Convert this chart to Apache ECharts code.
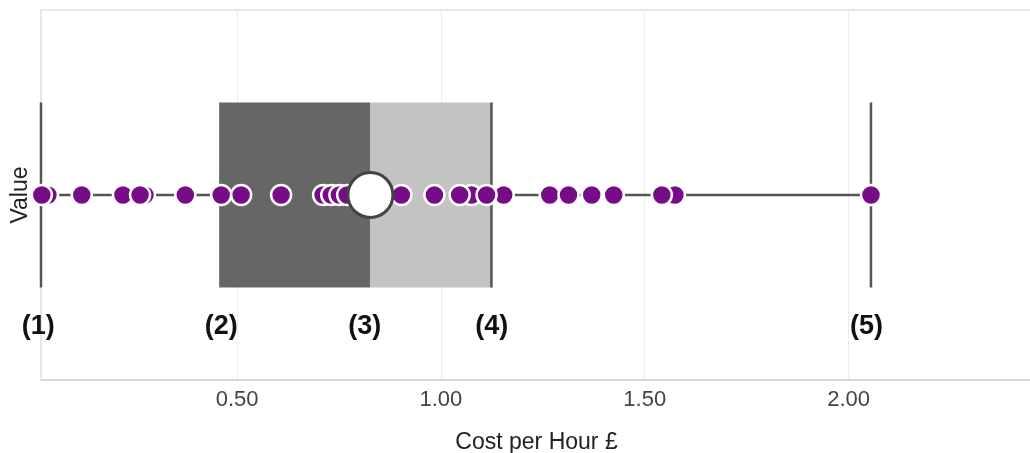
<!DOCTYPE html>
<html>
<head>
<meta charset="utf-8">
<script src="https://cdn.jsdelivr.net/npm/echarts@6/dist/echarts.min.js"></script>
<style>
    html, body { margin: 0; padding: 0; background: #fff; }
    #costChart { width: 1030px; height: 453px; }
</style>
</head>
<body>
<div id="costChart"></div>
<script>
// low whisker, Q1, median, Q3, high whisker
var boxStats = [0.019, 0.456, 0.827, 1.124, 2.055];
// drawn in this order, so the ones listed first sit behind their neighbours
var costValues = [0.036, 0.274, 1.075, 1.154, 1.267, 1.574,
    0.021, 0.119, 0.220, 0.262, 0.373, 0.461, 0.510, 0.608, 0.711, 0.731, 0.751, 0.770,
    0.903, 0.984, 1.046, 1.112, 1.313, 1.370, 1.424, 1.542, 2.055];
var markerText = ['(1)', '(2)', '(3)', '(4)', '(5)'];
var markerPos = [0.012, 0.461, 0.813, 1.125, 2.044];
var xTicks = [0.5, 1.0, 1.5, 2.0];

function $each(arr, fn) {
    for (var i = 0; i < arr.length; i++) fn(arr[i], i);
}

var pointData = [], markerData = [];
$each(costValues, function (v) { pointData.push([v, 0]); });
$each(markerPos, function (v) { markerData.push([v, -0.71]); });

function renderBox(params, api) {
    var lo = api.value(0), q1 = api.value(1), med = api.value(2), q3 = api.value(3), hi = api.value(4);
    var top = 0.5, bottom = -0.5;
    var lineStyle = { stroke: '#555', lineWidth: 2.5 };
    function vline(v) {
        var a = api.coord([v, top]), b = api.coord([v, bottom]);
        return { type: 'line', shape: { x1: a[0], y1: a[1], x2: b[0], y2: b[1] }, style: lineStyle };
    }
    function rect(v1, v2, color) {
        var a = api.coord([v1, top]), b = api.coord([v2, bottom]);
        return { type: 'rect', shape: { x: a[0], y: a[1], width: b[0] - a[0], height: b[1] - a[1] }, style: { fill: color } };
    }
    var l = api.coord([lo, 0]), h = api.coord([hi, 0]);
    return {
        type: 'group',
        children: [
            { type: 'line', shape: { x1: l[0], y1: l[1], x2: h[0], y2: h[1] }, style: lineStyle },
            rect(q1, med, '#666666'),
            rect(med, q3, '#c3c3c3'),
            vline(lo),
            vline(q3),
            vline(hi)
        ]
    };
}

var costChart = echarts.init(document.getElementById('costChart'));
var option = {
    animation: false,
    textStyle: { fontFamily: 'Liberation Sans, Arial, sans-serif' },
    grid: {
        left: 41,
        right: -2,
        top: 10,
        bottom: 73,
        outerBoundsMode: 'none',
        show: true,
        borderColor: '#cfcfcf',
        borderWidth: 1
    },
    xAxis: {
        type: 'value',
        min: boxStats[0],
        max: 2.45,
        name: 'Cost per Hour £',
        nameLocation: 'middle',
        nameGap: 51,
        nameTextStyle: { color: '#222', fontSize: 23 },
        axisLine: { show: true, onZero: false, lineStyle: { color: '#d4d4d4', width: 1.5 } },
        axisTick: { show: false, customValues: xTicks },
        axisLabel: {
            customValues: xTicks,
            color: '#444',
            fontSize: 22,
            margin: 9,
            formatter: function (v) { return v.toFixed(2); }
        },
        splitLine: { show: true, lineStyle: { color: '#ececec', width: 1 } }
    },
    yAxis: {
        type: 'value',
        min: -1,
        max: 1,
        name: 'Value',
        nameLocation: 'middle',
        nameGap: 9,
        nameTextStyle: { color: '#222', fontSize: 23 },
        axisLine: { show: false },
        axisTick: { show: false },
        axisLabel: { show: false },
        splitLine: { show: false }
    },
    series: [
        {
            type: 'custom',
            renderItem: renderBox,
            data: [boxStats],
            encode: { x: [0, 1, 2, 3, 4] },
            z: 2,
            silent: true
        },
        {
            type: 'scatter',
            data: pointData,
            symbolSize: 20,
            itemStyle: { color: '#760c87', borderColor: '#fff', borderWidth: 2.5, opacity: 1 },
            z: 3
        },
        {
            type: 'scatter',
            data: [[boxStats[2], 0]],
            symbolSize: 45,
            itemStyle: { color: '#fff', borderColor: '#444', borderWidth: 3, opacity: 1 },
            z: 4
        },
        {
            type: 'scatter',
            data: markerData,
            symbolSize: 0,
            clip: false,
            itemStyle: { opacity: 1 },
            label: {
                show: true,
                position: 'inside',
                color: '#111',
                fontSize: 27,
                fontWeight: 'bold',
                formatter: function (p) { return markerText[p.dataIndex]; }
            },
            z: 5
        }
    ]
};
costChart.setOption(option);
</script>
</body>
</html>
